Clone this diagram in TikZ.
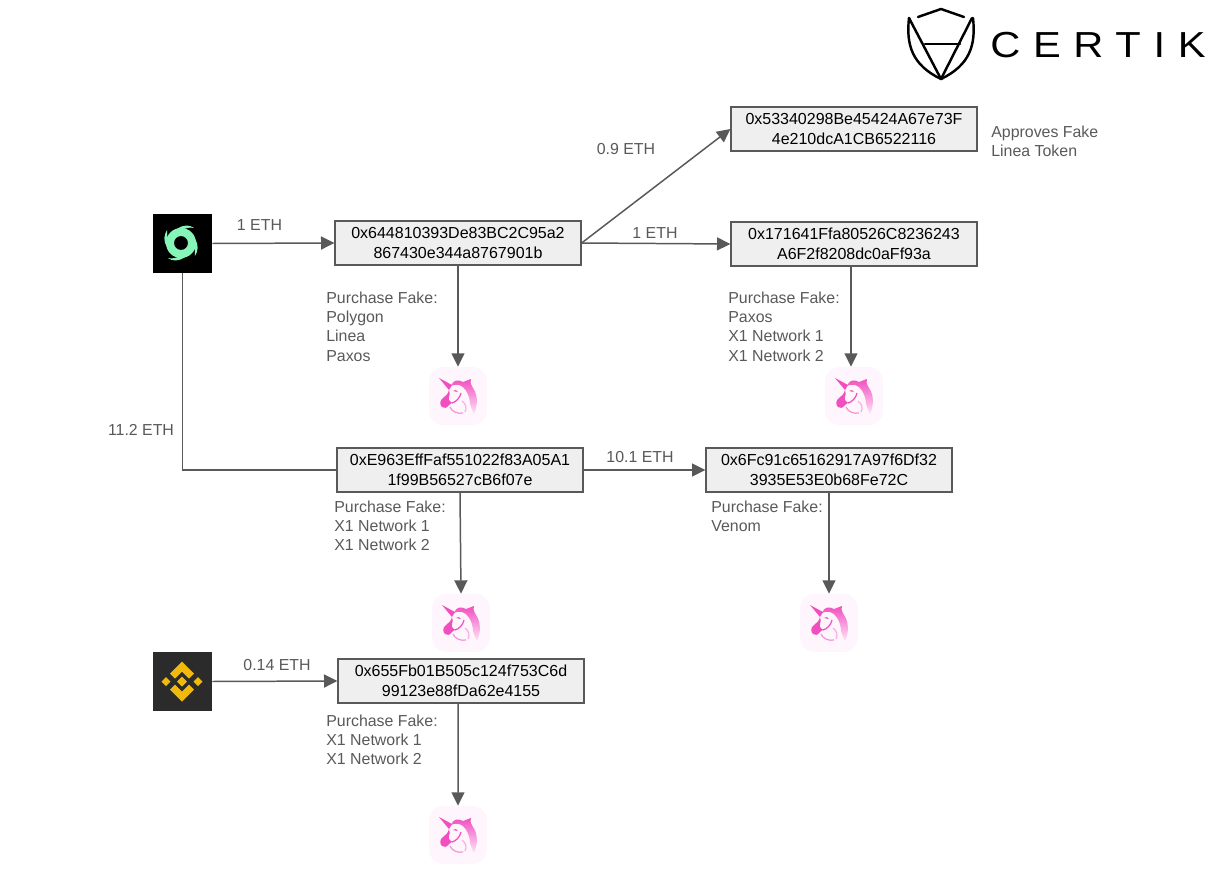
\documentclass[tikz,border=0pt]{standalone}
\usepackage{fontspec}
\setmainfont{Liberation Sans}
\newfontfamily\logofont[LetterSpace=35,FakeStretch=1.15]{Liberation Sans}
\usepackage{xcolor}
\usetikzlibrary{arrows.meta}
\usetikzlibrary{positioning}
\definecolor{linegray}{HTML}{595959}
\definecolor{boxgray}{HTML}{EFEFEF}
\definecolor{unipink}{HTML}{FFF5FC}
\definecolor{unimag}{HTML}{F14FC0}
\definecolor{swirl}{HTML}{86F5B8}
\definecolor{bnbdark}{HTML}{2B2B2B}
\definecolor{bnbgold}{HTML}{F0B90B}
\tikzset{
  addr/.style={draw=linegray,line width=.75pt,fill=boxgray,minimum width=4.92cm,minimum height=.88cm,
    inner sep=0pt,align=center,font=\fontsize{9.1}{11.3}\selectfont},
  note/.style={text=linegray,inner sep=0pt,anchor=north west,align=left,font=\fontsize{9.05}{10.95}\selectfont},
  amount/.style={text=linegray,inner sep=0pt,font=\fontsize{9.05}{10.95}\selectfont},
  arr/.style={draw=linegray,line width=.85pt,-{Triangle[length=7.6pt,width=7.4pt]}},
  logosq/.style={minimum size=1.18cm,inner sep=0pt},
  uni/.style={fill=unipink,rounded corners=8pt,minimum size=1.16cm,inner sep=0pt},
  unihead/.pic={
    % mane
    \shade[top color=unimag,bottom color=unimag!15!white] (-7,-10)..controls(-5,-16)and(0,-17)..(5,-14)--(13,-17)
      ..controls(12,-13)and(13,-11)..(15,-8)..controls(20,-1)and(20,9)..(16,18)
      ..controls(14,14)and(13,11)..(12,8)..controls(12,1)and(8,-9)..(1,-11)..controls(-2,-12)and(-5,-11)..(-7,-10)--cycle;
    % horn
    \fill[unimag] (-19,-18)--(-6,-11)--(-9,-6)--cycle;
    % snout and face line
    \fill[unimag] (-9,-6)..controls(-10,-2)and(-12,0)..(-15,2)..controls(-19,5)and(-18,9)..(-16,11)
      ..controls(-14,13)and(-11,12)..(-9,9)..controls(-7,7)and(-6,7)..(-5,7)..controls(-8,6)and(-10,4)..(-9,1)
      ..controls(-8,-1)and(-8,-3)..(-9,-6)--cycle;
    \draw[unimag,line width=.7pt] (-6,7)..controls(-2,6)and(2,2)..(3,-3);
    \fill[unimag] (-5,-5)..controls(-3,-7)and(-1,-6)..(0,-4)..controls(-2,-5)and(-3,-4)..(-5,-5)--cycle;
    % neck
    \draw[unimag!60!white,line width=.7pt] (-8,11)..controls(-6,16)and(0,18)..(5,17);
    \draw[unimag!45!white,line width=.7pt] (4,5)..controls(8,8)and(9,12)..(7,16);
  }
}
\begin{document}
\begin{tikzpicture}[x=.02cm,y=-.02cm]
  \useasboundingbox (0,0) rectangle (1215,872);
  % wallets
  \node[addr](top) at (854,129) {0x53340298Be45424A67e73F\\4e210dcA1CB6522116};
  \node[addr](mix) at (458,243) {0x644810393De83BC2C95a2\\867430e344a8767901b};
  \node[addr](sec) at (854,244) {0x171641Ffa80526C8236243\\A6F2f8208dc0aFf93a};
  \node[addr](big) at (460,470) {0xE963EffFaf551022f83A05A1\\1f99B56527cB6f07e};
  \node[addr](ven) at (829,470) {0x6Fc91c65162917A97f6Df32\\3935E53E0b68Fe72C};
  \node[addr](bnb) at (461,681) {0x655Fb01B505c124f753C6d\\99123e88fDa62e4155};
  %%
  % sources
  \node[logosq,fill=black](tor) at (182.5,243.5) {};
  \begin{scope}[shift={(181,243)}]
    \fill[swirl,even odd rule] (0,0) circle (15) (0,0) circle (7);
    \fill[swirl] (-4,-14)..controls(3,-19)and(9,-18)..(13,-15)..controls(9,-16)and(4,-15)..(2,-13)--cycle;
    \fill[swirl] (14,-4)..controls(18,2)and(17,8)..(14,13)..controls(14,9)and(14,5)..(12,3)--cycle;
    \fill[swirl] (4,14)..controls(-3,19)and(-9,18)..(-13,15)..controls(-9,16)and(-4,15)..(-2,13)--cycle;
    \fill[swirl] (-14,4)..controls(-18,-2)and(-17,-8)..(-14,-13)..controls(-14,-9)and(-14,-5)..(-12,-3)--cycle;
  \end{scope}
  \node[logosq,fill=bnbdark](bin) at (182.5,681.5) {};
  \begin{scope}[shift={(182,681.7)}]
    \fill[bnbgold] (0,-20)--(12,-8)--(7,-3)--(0,-10)--(-7,-3)--(-12,-8)--cycle;
    \fill[bnbgold] (0,20)--(12,8)--(7,3)--(0,10)--(-7,3)--(-12,8)--cycle;
    \fill[bnbgold] (0,-5)--(5,0)--(0,5)--(-5,0)--cycle;
    \fill[bnbgold] (-16,-4.5)--(-11.5,0)--(-16,4.5)--(-20.5,0)--cycle;
    \fill[bnbgold] (16,-4.5)--(20.5,0)--(16,4.5)--(11.5,0)--cycle;
  \end{scope}
  %%
  % swaps
  \node[uni](u1) at (458,396) {};
  \node[uni](u2) at (854,396) {};
  \node[uni](u3) at (461,623) {};
  \node[uni](u4) at (829,623) {};
  \node[uni](u5) at (458,835) {};
  \pic at (u1) {unihead};
  \pic at (u2) {unihead};
  \pic at (u3) {unihead};
  \pic at (u4) {unihead};
  \pic at (u5) {unihead};
  %%
  \draw[arr](tor.east)--(mix.west);
  \draw[arr](mix.east)--(top.west);
  \draw[arr](mix.east)--(sec.west);
  \draw[arr](mix.south)--(u1.north);
  \draw[arr]([xshift=-1.7pt]sec.south)--([xshift=-1.7pt]u2.north);
  \draw[draw=linegray,line width=.85pt](tor.south)|-(big.west);
  \draw[arr](big.east)--(ven.west);
  \draw[arr](big.south)--(u3.north);
  \draw[arr](ven.south)--(u4.north);
  \draw[arr](bin.east)--(bnb.west);
  \draw[arr]([xshift=-1.7pt]bnb.south)--(u5.north);
  %%
  \node[amount](a1) at (259.5,225) {1 ETH};
  \node[amount](a2) at (626,149) {0.9 ETH};
  \node[amount](a3) at (655,233) {1 ETH};
  \node[amount](a4) at (141,430) {11.2 ETH};
  \node[amount](a5) at (640,457) {10.1 ETH};
  \node[amount](a6) at (277,665) {0.14 ETH};
  %%
  \node[note](n1) at (991,125.5) {Approves Fake\\Linea Token};
  \node[note](n2) at (326,291.5) {Purchase Fake:\\Polygon\\Linea\\Paxos};
  \node[note](n3) at (728,291.5) {Purchase Fake:\\Paxos\\X1 Network 1\\X1 Network 2};
  \node[note](n4) at (334,500.5) {Purchase Fake:\\X1 Network 1\\X1 Network 2};
  \node[note](n5) at (711,500.5) {Purchase Fake:\\Venom};
  \node[note](n6) at (326,714.5) {Purchase Fake:\\X1 Network 1\\X1 Network 2};
  %%
  % brand
  \node[inner sep=0pt,anchor=base west,font=\logofont\fontsize{20.6}{24}\selectfont](brand) at (990,57) {CERTIK};
  \begin{scope}[line width=1.4pt,line cap=round,line join=round]
    \draw (918,17)--(941,9)--(964,17);
    \draw (909,18)..controls(906,45)and(912,65)..(941,79)..controls(970,65)and(976,45)..(973,18);
    \draw (909,18)--(941,79)--(972,18);
    \draw (925,44)--(960,44);
  \end{scope}
\end{tikzpicture}
\end{document}
